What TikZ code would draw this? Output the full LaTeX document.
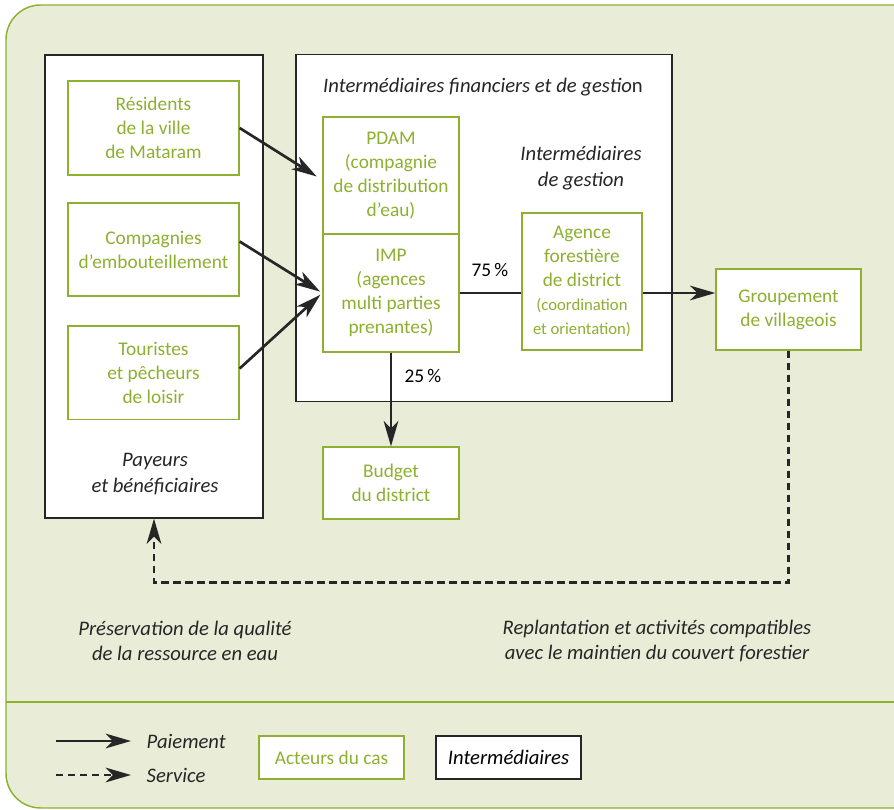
\documentclass[tikz,border=0pt]{standalone}
\usepackage{fontspec}
\setmainfont{Carlito}
\usetikzlibrary{arrows.meta}
\definecolor{casgreen}{RGB}{141,176,48}
\definecolor{panel}{RGB}{233,237,215}
\begin{document}
\begin{tikzpicture}[x=0.75pt, y=-0.75pt,
    actor/.style={rectangle, draw=casgreen, line width=1pt, fill=white, text=casgreen, align=center, font=\fontsize{14.5}{18}\selectfont, inner sep=0pt},
    frame/.style={rectangle, draw=black!85, line width=0.9pt, fill=white, inner sep=0pt},
    lbl/.style={align=center, font=\fontsize{15.5}{19}\selectfont\itshape, text=black!85},
    pay/.style={-{Stealth[length=19pt, width=11pt, inset=5.5pt]}, line width=2pt, black!85},
    serv/.style={pay, dash pattern=on 5.3pt off 3.7pt}
]
    \useasboundingbox (0,0) rectangle (894,810);
    % Background panel
    \draw[fill=panel, draw=casgreen, line width=1.1pt, rounded corners=26pt] (6,5) rectangle (930,808);
    \draw[casgreen, line width=1.1pt] (6,702) -- (894,702);

    % Frames: payers and intermediaries
    \node[frame, minimum width=163.5pt, minimum height=347.25pt] (payeurs) at (154,286.5) {};
    \node[frame, minimum width=282pt, minimum height=260.25pt] (inter) at (484,228) {};
    \node[lbl] (payeurslbl) at (155,474) {Payeurs\\et bénéficiaires};
    \node[lbl] (interlbl) at (483,87) {Intermédiaires financiers et de gestio\textup{n}};
    \node[lbl] (gestlbl) at (581,168) {Intermédiaires\\de gestion};

    % Column 1: payers
    \node[actor, minimum width=128.25pt, minimum height=70.5pt] (res) at (153.5,128) {Résidents\\de la ville\\de Mataram};
    \node[actor, minimum width=128.25pt, minimum height=69.75pt] (comp) at (153.5,249.5) {Compagnies\\d’embouteillement};
    \node[actor, minimum width=128.25pt, minimum height=70pt] (tour) at (153.5,372.5) {Touristes\\et pêcheurs\\de loisir};

    % Column 2: PDAM / IMP / budget
    \node[actor, minimum width=102pt, minimum height=87.75pt] (pdam) at (391,175.5) {PDAM\\(compagnie\\de distribution\\d’eau)};
    \node[actor, minimum width=102pt, minimum height=88.5pt] (imp) at (391,293) {IMP\\(agences\\multi parties\\prenantes)};
    \node[actor, minimum width=102pt, minimum height=54pt] (budget) at (391,483) {Budget\\du district};

    % Column 3: agency and villagers
    \node[actor, minimum width=90pt, minimum height=102.75pt] (agence) at (582,281.5) {Agence\\forestière\\de district\\{\fontsize{12.5}{15}\selectfont(coordination}\\{\fontsize{12.5}{15}\selectfont et orientation)}};
    \node[actor, minimum width=108.75pt, minimum height=60.75pt] (grp) at (788.5,309.5) {Groupement\\de villageois};

    % Payments
    \draw[pay, shorten >=5pt] (res.east) -- ([yshift=-3.4pt]pdam.west);
    \draw[pay, shorten >=2pt] ([yshift=6pt]comp.east) -- (imp.west);
    \draw[pay, shorten >=2pt] ([yshift=3pt]tour.east) -- (imp.west);
    \draw[line width=2pt, black!85] (imp.east) -- (imp.east -| agence.west);
    \draw[pay] (imp.east -| agence.east) -- (imp.east -| grp.west);
    \draw[pay] (imp.south) -- (budget.north);
    \node (p75) at (490,270) {\fontsize{14.5}{18}\selectfont 75\,\%};
    \node (p25) at (423,376) {\fontsize{14.5}{18}\selectfont 25\,\%};

    % Service
    \draw[serv] (grp.south) -- ++(0,232) -| (payeurs.south);
    \node[lbl] (preslbl) at (185,641) {Préservation de la qualité\\de la ressource en eau};
    \node[lbl] (replbl) at (657,641) {Replantation et activités compatibles\\avec le maintien du couvert forestier};

    % Legend
    \coordinate (lp1) at (56,741);
    \coordinate (lp2) at (131,741);
    \coordinate (ls1) at (56,775);
    \coordinate (ls2) at (131,775);
    \draw[pay] (lp1) -- (lp2);
    \draw[serv] (ls1) -- (ls2);
    \node[lbl, anchor=west] (paiement) at (142,741) {Paiement};
    \node[lbl, anchor=west] (service) at (142,775) {Service};
    \node[actor, minimum width=108.75pt, minimum height=32.25pt] (legact) at (331.5,757.5) {Acteurs du cas};
    \node[frame, minimum width=108.75pt, minimum height=32.25pt, font=\fontsize{15.5}{19}\selectfont\itshape] (leginter) at (508.5,757.5) {Intermédiaires};
\end{tikzpicture}
\end{document}
